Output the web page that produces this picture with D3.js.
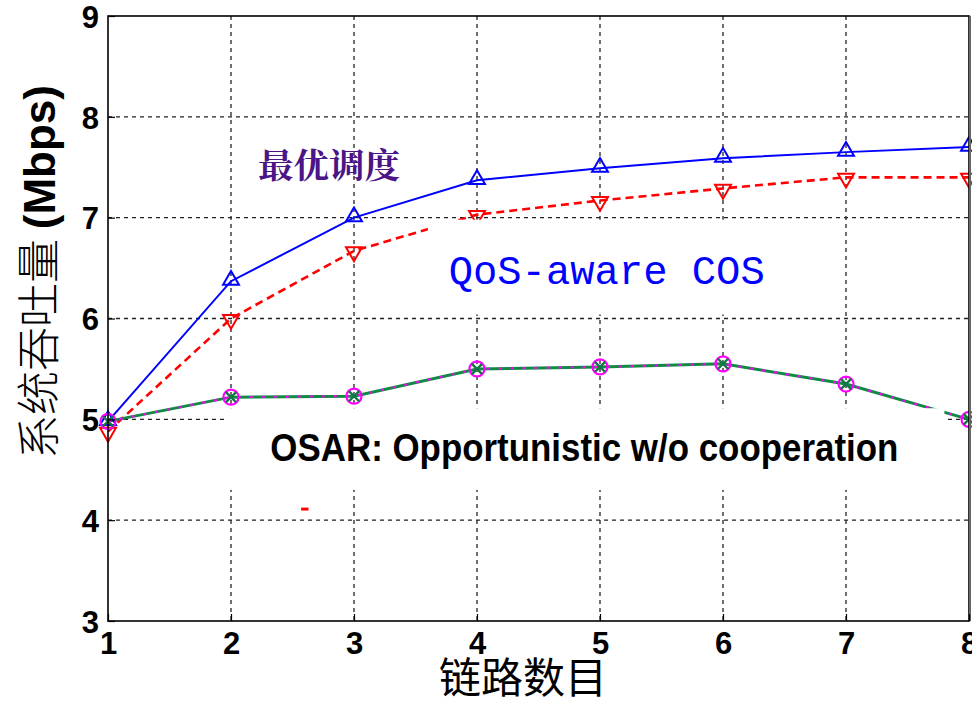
<!DOCTYPE html>
<html><head><meta charset="utf-8">
<script src="https://cdn.jsdelivr.net/npm/d3@7"></script>
<style>body{margin:0;background:#fff;overflow:hidden}svg{display:block}</style>
</head><body>
<svg id="c" width="972" height="701"></svg>
<script>
const links = [1,2,3,4,5,6,7,8];
const optimal = [4.98,6.37,7.00,7.37,7.49,7.59,7.65,7.70];
const qosCos  = [4.88,6.00,6.67,7.03,7.17,7.29,7.40,7.40];
const osar    = [4.98,5.22,5.23,5.50,5.52,5.55,5.35,5.00];
const yTicks = [3,4,5,6,7,8,9];
const xTicks = [1,2,3,4,5,6,7,8];
const labelOptimal = "最优调度";
const labelQos = "QoS-aware COS";
const labelOsar = "OSAR: Opportunistic w/o cooperation";
const xTitle = "链路数目";
const yTitleCn = "系统吞吐量 ";
const yTitleEn = "(Mbps)";

const svg = d3.select("#c");
const L=108, R=969, T=16, B=621;
const x = d3.scaleLinear().domain([1,8]).range([L,R]);
const y = d3.scaleLinear().domain([3,9]).range([B,T]);

// grid
const g = svg.append("g");
g.selectAll(".vg").data(xTicks.slice(1,-1)).enter().append("line")
  .attr("x1",d=>x(d)).attr("x2",d=>x(d)).attr("y1",T).attr("y2",B)
  .attr("stroke","#222").attr("stroke-width",1.3).attr("stroke-dasharray","4,4");
g.selectAll(".hg").data(yTicks.slice(1,-1)).enter().append("line")
  .attr("x1",L).attr("x2",R).attr("y1",d=>y(d)).attr("y2",d=>y(d))
  .attr("stroke","#222").attr("stroke-width",1.3).attr("stroke-dasharray","4,4");

const line = d3.line().x((d,i)=>x(links[i])).y(d=>y(d));

// series lines
svg.append("path").datum(optimal).attr("d",line).attr("fill","none")
  .attr("stroke","#0000ff").attr("stroke-width",2);
svg.append("path").datum(qosCos).attr("d",line).attr("fill","none")
  .attr("stroke","#ff0000").attr("stroke-width",2.6).attr("stroke-dasharray","8,5");
svg.append("path").datum(osar).attr("d",line).attr("fill","none")
  .attr("stroke","#118844").attr("stroke-width",3);
svg.append("path").datum(osar).attr("d",line).attr("fill","none")
  .attr("stroke","#ff00ff").attr("stroke-width",2).attr("stroke-dasharray","3,9");

// markers
const tri = d3.symbol().type(d3.symbolTriangle).size(110);
svg.selectAll(".mo").data(optimal).enter().append("path")
  .attr("d",tri).attr("transform",(d,i)=>`translate(${x(links[i])},${y(d)-1})`)
  .attr("fill","none").attr("stroke","#0000ff").attr("stroke-width",2);
svg.selectAll(".mq").data(qosCos).enter().append("path")
  .attr("d",tri).attr("transform",(d,i)=>`translate(${x(links[i])},${y(d)+1}) rotate(180)`)
  .attr("fill","none").attr("stroke","#ff0000").attr("stroke-width",2);
svg.selectAll(".mc").data(osar).enter().append("circle")
  .attr("cx",(d,i)=>x(links[i])).attr("cy",d=>y(d)).attr("r",7.5)
  .attr("fill","none").attr("stroke","#ff00ff").attr("stroke-width",2.2);
const cross = d3.symbol().type(d3.symbolX).size(70);
svg.selectAll(".mx").data(osar).enter().append("path")
  .attr("d",cross).attr("transform",(d,i)=>`translate(${x(links[i])},${y(d)})`)
  .attr("fill","none").attr("stroke","#117744").attr("stroke-width",2.4);

// white text boxes (drawn over data, like the original)
svg.append("rect").attr("x",x(3.6)).attr("y",y(6.98)).attr("width",x(6.6)-x(3.6)).attr("height",y(6.04)-y(6.98)).attr("fill","#fff");
svg.append("rect").attr("x",x(1.95)).attr("y",y(5.11)).attr("width",x(7.8)-x(1.95)).attr("height",y(4.3)-y(5.11)).attr("fill","#fff");

// axes frame
svg.append("rect").attr("x",L).attr("y",T).attr("width",R-L).attr("height",B-T)
  .attr("fill","none").attr("stroke","#000").attr("stroke-width",1.6);
svg.append("line").attr("x1",R+1).attr("x2",R+1).attr("y1",T).attr("y2",B).attr("stroke","#666").attr("stroke-width",2);

// axes ticks and labels
const ax = svg.append("g").attr("transform",`translate(0,${B})`)
  .call(d3.axisBottom(x).tickValues(xTicks).tickSize(-7).tickPadding(11).tickFormat(d3.format("d")));
const ay = svg.append("g").attr("transform",`translate(${L},0)`)
  .call(d3.axisLeft(y).tickValues(yTicks).tickSize(-7).tickPadding(9).tickFormat(d3.format("d")));
[ax,ay].forEach(a=>{
  a.select(".domain").remove();
  a.selectAll(".tick line").attr("stroke","#000").attr("stroke-width",1.2);
  a.selectAll("text").attr("font-family","Liberation Sans, Arial, sans-serif")
    .attr("font-weight","bold").attr("font-size",31).attr("fill","#000");
});
ax.selectAll("text").attr("dy","0.71em");
ay.selectAll("text").attr("dx","0").attr("dy","0.36em");

// titles
svg.append("text").attr("x",523).attr("y",693).attr("text-anchor","middle")
  .attr("font-family","Noto Sans CJK SC").attr("font-size",42).attr("fill","#000").text(xTitle);
const yt = svg.append("text").attr("transform","translate(55,272) rotate(-90)").attr("text-anchor","middle");
yt.append("tspan").attr("font-family","Noto Sans CJK SC").attr("font-size",44).attr("font-weight",300).text(yTitleCn);
yt.append("tspan").attr("font-family","Liberation Sans, Arial, sans-serif").attr("font-weight","bold").attr("font-size",44).text(yTitleEn);

// annotations
svg.append("text").attr("x",x(2.22)).attr("y",y(7.39)).attr("font-family","Noto Serif CJK SC, Noto Sans CJK SC")
  .attr("font-weight","bold").attr("font-size",34).attr("fill","#4b1587")
  .attr("textLength",142).attr("lengthAdjust","spacingAndGlyphs").text(labelOptimal);
svg.append("text").attr("x",x(3.77)).attr("y",y(6.34)).attr("font-family","Courier New, Liberation Mono, monospace")
  .attr("font-size",40).attr("fill","#0000ff").attr("textLength",316).attr("lengthAdjust","spacingAndGlyphs").text(labelQos);
svg.append("text").attr("x",x(2.32)).attr("y",y(4.59)).attr("font-family","Liberation Sans Narrow, Liberation Sans, Arial, sans-serif")
  .attr("font-weight","bold").attr("font-size",38).attr("fill","#000").attr("textLength",628).attr("lengthAdjust","spacingAndGlyphs").text(labelOsar);

// stray red mark
svg.append("line").attr("x1",x(2.57)).attr("x2",x(2.63)).attr("y1",y(4.11)).attr("y2",y(4.11))
  .attr("stroke","#ff0000").attr("stroke-width",3);
</script>
</body></html>
